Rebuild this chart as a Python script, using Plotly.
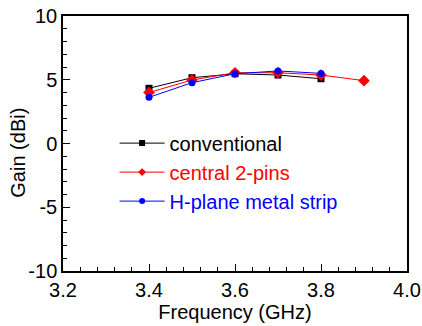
import plotly.graph_objects as go

freq_conv = [3.4, 3.5, 3.6, 3.7, 3.8]
gain_conv = [4.33, 5.16, 5.47, 5.37, 5.08]
freq_pins = [3.4, 3.5, 3.6, 3.7, 3.8, 3.9]
gain_pins = [4.0, 4.98, 5.55, 5.55, 5.37, 4.93]
freq_strip = [3.4, 3.5, 3.6, 3.7, 3.8]
gain_strip = [3.62, 4.77, 5.47, 5.69, 5.5]

series_names = ["conventional", "central 2-pins", "H-plane metal strip"]
series_colors = ["black", "red", "blue"]
series_symbols = ["square", "diamond", "circle"]
series_sizes = [7, 9, 7]
series_x = [freq_conv, freq_pins, freq_strip]
series_y = [gain_conv, gain_pins, gain_strip]

y_ticks = [-10, -5, 0, 5, 10]
y_ticktext = ["-10", "-5", "0", "5", "10"]
x_ticks = [3.2, 3.4, 3.6, 3.8, 4.0]
x_ticktext = ["3.2", "3.4", "3.6", "3.8", "4.0"]

fig = go.Figure()
for xs, ys, c, s, sz in zip(series_x, series_y, series_colors, series_symbols, series_sizes):
    fig.add_trace(go.Scatter(x=xs, y=ys, mode="lines+markers", showlegend=False,
        line=dict(color=c, width=1), marker=dict(symbol=s, size=sz, color=c)))
# legend entries (smaller markers, like the original legend)
for name, c, s in zip(series_names, series_colors, series_symbols):
    fig.add_trace(go.Scatter(x=[None], y=[None], mode="lines+markers",
        name=f"<span style='color:{c}'>{name}</span>",
        line=dict(color=c, width=1), marker=dict(symbol=s, size=6, color=c)))

axis_common = dict(showgrid=False, zeroline=False, showline=True, linecolor="black",
                   linewidth=1.5, mirror=True, ticks="inside", tickcolor="black",
                   ticklen=7, tickwidth=1.2, tickfont=dict(size=20, color="black"),
                   automargin=False)
fig.update_xaxes(range=[3.2, 4.0], tickvals=x_ticks, ticktext=x_ticktext,
    minor=dict(ticks="inside", dtick=0.04, tick0=3.2, ticklen=4, tickcolor="black"),
    title=dict(text="Frequency (GHz)", font=dict(size=20, color="black"), standoff=2),
    **axis_common)
fig.update_yaxes(range=[-10, 10], tickvals=y_ticks, ticktext=y_ticktext,
    minor=dict(ticks="inside", dtick=1, ticklen=4, tickcolor="black"),
    **axis_common)
fig.add_annotation(text="Gain (dBi)", textangle=-90, xref="paper", yref="paper",
    x=-0.13, y=0.465, xanchor="center", yanchor="middle", showarrow=False,
    font=dict(size=20, color="black"))
fig.update_layout(width=422, height=326, margin=dict(l=63, r=15, t=16, b=55),
    plot_bgcolor="white", paper_bgcolor="white",
    font=dict(family="Liberation Sans, Arial", color="black"),
    legend=dict(x=0.15, y=0.578, xanchor="left", yanchor="top",
                font=dict(size=20), itemwidth=45, bgcolor="rgba(0,0,0,0)",
                tracegroupgap=0))
fig.write_html("out.html")
